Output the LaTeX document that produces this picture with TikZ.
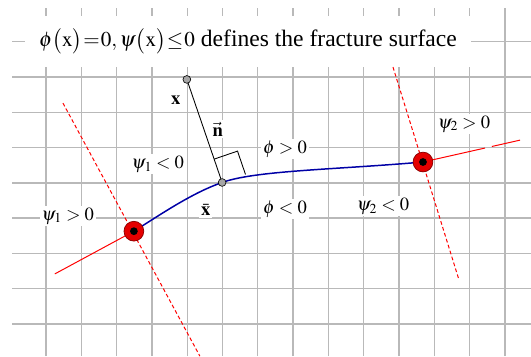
\documentclass[tikz,border=0pt]{standalone}
\usepackage{mathptmx}
\usepackage{fontspec}
\setmainfont{Liberation Serif}

\tikzset{
  gridline/.style={gray!55, line width=1.1pt},
  cutline/.style={red, line width=0.8pt, dash pattern=on 3pt off 2pt},
  crack/.style={blue!65!black, line width=1.2pt},
  tipdot/.style={circle, fill=red!90!black, draw=red!55!black, line width=0.6pt, minimum size=0.56cm, inner sep=0pt},
  smalldot/.style={circle, fill=gray!70, draw=black, line width=0.5pt, minimum size=0.22cm, inner sep=0pt},
  region/.style={fill=white, inner sep=1.5pt, font=\fontsize{15}{18}\selectfont},
}

\begin{document}
\begin{tikzpicture}
  \useasboundingbox (-1.303,-0.907) rectangle (13.74,9.18);

  \foreach \i in {0,...,13}
    \draw[gridline] (\i,-0.907) -- (\i,8.95);
  \foreach \j in {0,...,8}
    \draw[gridline] (-0.96,\j) -- (13.74,\j);

  \node[fill=white, minimum width=12.64cm, minimum height=1.45cm, font=\fontsize{19}{23}\selectfont] (title) at (5.72, 8.0)
    {{\fontsize{17}{20}\selectfont$\thickmuskip=1mu \phi\bigl(\mathrm{x}\bigr)=0,\psi\bigl(\mathrm{x}\bigr)\le 0$}\ defines the fracture surface};

  \node[region] (psiAneg) at (3.17, 4.53) {$\psi_1<0$};
  \node[region] (psiApos) at (0.62, 3.06) {$\psi_1>0$};
  \node[region] (phipos) at (6.77, 4.96) {$\phi>0$};
  \node[region] (phineg) at (6.77, 3.26) {$\phi<0$};
  \node[region] (psiBpos) at (11.84, 5.67) {$\psi_2>0$};
  \node[region] (psiBneg) at (9.55, 3.34) {$\psi_2<0$};
  \node[region] (xlabel) at (3.68, 6.35) {$\mathbf{x}$};
  \node[region] (nlabel) at (4.87, 5.52) {$\vec{\mathbf{n}}$};
  \node[region] (xbarlabel) at (4.53, 3.23) {$\bar{\mathbf{x}}$};

  \coordinate (tipA) at (2.49, 2.63);
  \coordinate (tipB) at (10.68, 4.59);
  \coordinate (xpt) at (3.99, 6.93);
  \coordinate (xbar) at (4.99, 4.01);
  \coordinate (cutAtop) at (0.48, 6.26);
  \coordinate (cutAbot) at (4.36, -0.91);
  \coordinate (extA) at (0.25, 1.42);
  \coordinate (cutBtop) at (9.83, 7.28);
  \coordinate (cutBbot) at (11.70, 1.25);
  \coordinate (extB) at (13.43, 5.21);

  \draw[cutline] (cutAtop) -- (cutAbot);
  \draw[cutline] (cutBtop) -- (cutBbot);
  \draw[red, line width=0.8pt] (tipA) -- (extA);
  \draw[red, line width=0.8pt, dash pattern=on 1.8cm off 0.2cm] (tipB) -- (extB);

  \draw[crack] (tipA) .. controls +(32:0.9) and +(199:0.9) .. (xbar)
    .. controls +(20:1) and +(185:2.5) .. (tipB);

  \draw[line width=0.7pt] (xpt) -- (xbar);
  \begin{scope}[shift={(xbar)}, rotate=18.9]
    \draw[line width=0.7pt] (0, 0.7) -- (0.7, 0.7) -- (0.7, 0);
  \end{scope}

  \node[smalldot] (xptdot) at (xpt) {};
  \node[smalldot] (xbardot) at (xbar) {};
  \node[tipdot] (tipAdot) at (tipA) {};
  \fill[black] (tipA) circle (0.11);
  \node[tipdot] (tipBdot) at (tipB) {};
  \fill[black] (tipB) circle (0.11);
\end{tikzpicture}
\end{document}
